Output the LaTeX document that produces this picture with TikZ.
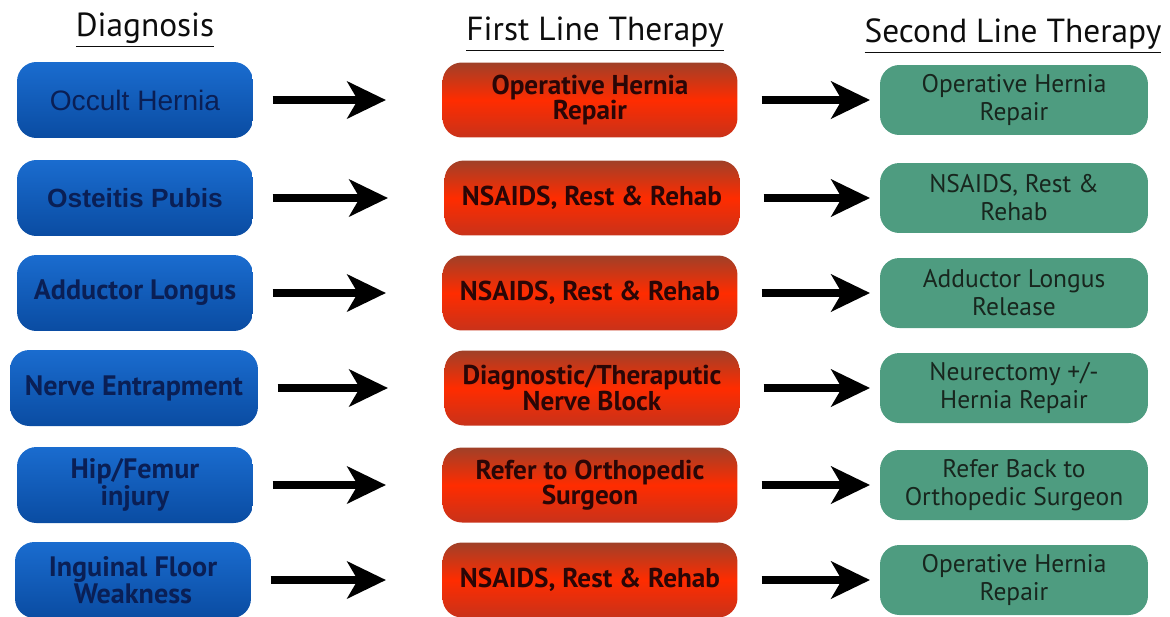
\documentclass[tikz,border=0pt]{standalone}
\usepackage{fontspec}
\setmainfont{PT Sans}
\newfontfamily\arialfont{Liberation Sans}
\usetikzlibrary{arrows.meta}

\definecolor{diagtop}{HTML}{1A6CCF}
\definecolor{diagbot}{HTML}{0A4CA2}
\definecolor{diagtext}{HTML}{0A1F55}
\definecolor{firsttop}{HTML}{A04028}
\definecolor{firstmid}{HTML}{FF2C00}
\definecolor{firstbot}{HTML}{C8321A}
\definecolor{firsttext}{HTML}{2A0606}
\definecolor{secondfill}{HTML}{4E9C80}
\definecolor{secondtext}{HTML}{18261E}

\begin{document}
\begin{tikzpicture}[x=0.02cm,y=-0.02cm]
  \tikzstyle{header}=[font=\fontsize{19}{21}\selectfont, text=black!95]
  \tikzstyle{diag}=[rounded corners=11pt, minimum width=4.72cm, minimum height=1.52cm, inner sep=2pt, align=center,
    top color=diagtop, bottom color=diagbot, text=diagtext, font=\bfseries\fontsize{16}{14}\selectfont]
  \tikzstyle{first}=[rounded corners=11pt, minimum width=5.9cm, minimum height=1.5cm, inner sep=2pt, align=center,
    top color=firsttop, bottom color=firstbot, middle color=firstmid, text=firsttext, font=\bfseries\fontsize{15.5}{14.4}\selectfont]
  \tikzstyle{second}=[rounded corners=11pt, minimum width=5.36cm, minimum height=1.4cm, inner sep=2pt, align=center,
    fill=secondfill, text=secondtext, font=\fontsize{14.5}{16}\selectfont]
  \tikzstyle{flow}=[-{Stealth[length=22pt,width=21pt,inset=6pt]}, line width=4.5pt]
  \tikzstyle{toleft}=[flow, shorten <=11pt, shorten >=32pt]
  \tikzstyle{toright}=[flow, shorten <=13.5pt, shorten >=5.5pt]

  \useasboundingbox (0,0) rectangle (1170,616);

  % column headers
  \node[header] (H_1) at (145,30) {\underline{Diagnosis}};
  \node[header] (H_2) at (595,34) {\underline{First Line Therapy}};
  \node[header] (H_3) at (1013,36) {\underline{Second Line Therapy}};

  % diagnosis
  \node[diag, font=\arialfont\fontsize{16}{18}\selectfont] (D_1) at (135,100) {Occult Hernia};
  \node[diag, font=\arialfont\bfseries\fontsize{15}{17}\selectfont] (D_2) at (135,198) {Osteitis Pubis};
  \node[diag] (D_3) at (135,293) {Adductor Longus};
  \node[diag, minimum width=4.96cm] (D_4) at (134,388) {Nerve Entrapment};
  \node[diag] (D_5) at (135,485) {Hip/Femur\\injury};
  \node[diag] (D_6) at (133,580) {Inguinal Floor\\Weakness};

  % first line therapy
  \node[first] (F_1) at (590,100) {Operative Hernia\\Repair};
  \node[first] (F_2) at (592,198) {NSAIDS, Rest \& Rehab};
  \node[first] (F_3) at (590,293) {NSAIDS, Rest \& Rehab};
  \node[first] (F_4) at (592,388) {Diagnostic/Theraputic\\Nerve Block};
  \node[first] (F_5) at (590,485) {Refer to Orthopedic\\Surgeon};
  \node[first] (F_6) at (590,580) {NSAIDS, Rest \& Rehab};

  % second line therapy
  \node[second] (S_1) at (1014,100) {Operative Hernia\\Repair};
  \node[second] (S_2) at (1014,198) {NSAIDS, Rest \&\\Rehab};
  \node[second] (S_3) at (1014,293) {Adductor Longus\\Release};
  \node[second] (S_4) at (1014,388) {Neurectomy +/-\\Hernia Repair};
  \node[second] (S_5) at (1014,485) {Refer Back to\\Orthopedic Surgeon};
  \node[second] (S_6) at (1014,580) {Operative Hernia\\Repair};

  \draw[toleft] (D_1) -- (F_1);
  \draw[toleft] (D_2) -- (F_2);
  \draw[toleft] (D_3) -- (F_3);
  \draw[toleft] (D_4) -- (F_4);
  \draw[toleft] (D_5) -- (F_5);
  \draw[toleft] (D_6) -- (F_6);

  \draw[toright] (F_1) -- (S_1);
  \draw[toright] (F_2) -- (S_2);
  \draw[toright] (F_3) -- (S_3);
  \draw[toright] (F_4) -- (S_4);
  \draw[toright] (F_5) -- (S_5);
  \draw[toright] (F_6) -- (S_6);
\end{tikzpicture}
\end{document}
